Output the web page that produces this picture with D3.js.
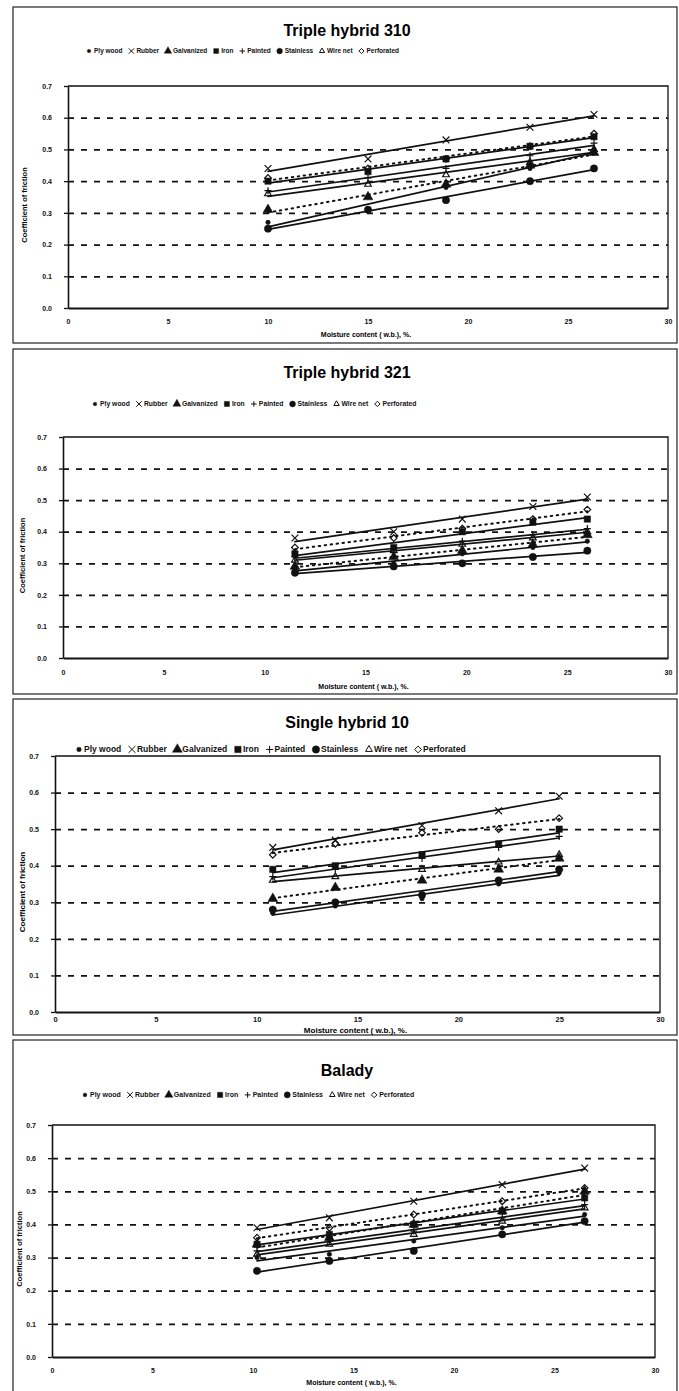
<!DOCTYPE html>
<html>
<head>
<meta charset="utf-8">
<script src="https://cdn.jsdelivr.net/npm/d3@7"></script>
<style>
  body { margin: 0; background: #fff; }
  svg { display: block; font-family: Arial, "Liberation Sans", sans-serif; }
</style>
</head>
<body>
<div id="container"></div>
<script>
// materials, in legend order
const materials = ["Ply wood", "Rubber", "Galvanized", "Iron", "Painted", "Stainless", "Wire net", "Perforated"];

const titles = ["Triple hybrid 310", "Triple hybrid 321", "Single hybrid 10", "Balady"];

// moisture content (w.b.) %, one array per variety
const moisture310 = [10, 15, 18.9, 23.1, 26.3];
const moisture321 = [11.5, 16.4, 19.8, 23.3, 26.0];
const moistureSH10 = [10.8, 13.9, 18.2, 22.0, 25.0];
const moistureBalady = [10.2, 13.8, 18.0, 22.4, 26.5];

// coefficient of friction, rows follow `materials`
const friction310 = [
    [0.27, 0.31, 0.38, 0.44, 0.50],
    [0.44, 0.47, 0.53, 0.57, 0.61],
    [0.31, 0.35, 0.39, 0.45, 0.49],
    [0.40, 0.43, 0.47, 0.51, 0.54],
    [0.37, 0.41, 0.44, 0.48, 0.52],
    [0.25, 0.31, 0.34, 0.40, 0.44],
    [0.36, 0.39, 0.42, 0.46, 0.50],
    [0.41, 0.44, 0.47, 0.51, 0.55]
];
const friction321 = [
    [0.28, 0.30, 0.33, 0.35, 0.37],
    [0.38, 0.40, 0.44, 0.48, 0.51],
    [0.29, 0.32, 0.34, 0.36, 0.39],
    [0.33, 0.35, 0.40, 0.43, 0.44],
    [0.32, 0.34, 0.37, 0.39, 0.41],
    [0.27, 0.29, 0.30, 0.32, 0.34],
    [0.31, 0.34, 0.36, 0.38, 0.40],
    [0.35, 0.38, 0.41, 0.44, 0.47]
];
const frictionSH10 = [
    [0.27, 0.29, 0.31, 0.35, 0.38],
    [0.45, 0.47, 0.51, 0.55, 0.59],
    [0.31, 0.34, 0.36, 0.39, 0.42],
    [0.39, 0.40, 0.43, 0.46, 0.50],
    [0.37, 0.39, 0.42, 0.45, 0.48],
    [0.28, 0.30, 0.32, 0.36, 0.39],
    [0.36, 0.37, 0.39, 0.41, 0.43],
    [0.43, 0.46, 0.49, 0.50, 0.53]
];
const frictionBalady = [
    [0.30, 0.31, 0.35, 0.39, 0.43],
    [0.39, 0.42, 0.47, 0.52, 0.57],
    [0.34, 0.36, 0.40, 0.44, 0.50],
    [0.34, 0.37, 0.40, 0.44, 0.48],
    [0.32, 0.35, 0.38, 0.42, 0.46],
    [0.26, 0.29, 0.32, 0.37, 0.41],
    [0.31, 0.34, 0.37, 0.41, 0.45],
    [0.36, 0.39, 0.43, 0.47, 0.51]
];

const xTicks = [0, 5, 10, 15, 20, 25, 30];
const yTicks = [0, 0.1, 0.2, 0.3, 0.4, 0.5, 0.6, 0.7];

const panels = [
    { title: titles[0], moisture: moisture310, friction: friction310 },
    { title: titles[1], moisture: moisture321, friction: friction321 },
    { title: titles[2], moisture: moistureSH10, friction: frictionSH10 },
    { title: titles[3], moisture: moistureBalady, friction: frictionBalady }
];

// page positions of each panel
const layout = [
    { by: 7,    bh: 336, x0: 68, x1: 668, yt: 86,   yb: 308,  ty: 36,   ly: 53,   lx: 86, lf: 6.5, tick: 322,  xl: 337,  yl: 27 },
    { by: 349,  bh: 345, x0: 63, x1: 668, yt: 437,  yb: 658,  ty: 378,  ly: 406,  lx: 92, lf: 6.8, tick: 673,  xl: 689,  yl: 25 },
    { by: 699,  bh: 336, x0: 55, x1: 660, yt: 756,  yb: 1012, ty: 728,  ly: 752,  lx: 76, lf: 8.5, tick: 1020, xl: 1033, yl: 25 },
    { by: 1040, bh: 352, x0: 52, x1: 655, yt: 1125, yb: 1357, ty: 1076, ly: 1097, lx: 82, lf: 7,   tick: 1371, xl: 1385, yl: 22 }
];

// marker and line style per material
const markerStyle = [
    { type: d3.symbolCircle,    size: 16, fill: true },
    { type: d3.symbolTimes,     size: 32, fill: false },
    { type: d3.symbolTriangle,  size: 42, fill: true },
    { type: d3.symbolSquare,    size: 40, fill: true },
    { type: d3.symbolPlus,      size: 18, fill: false },
    { type: d3.symbolCircle,    size: 42, fill: true },
    { type: d3.symbolTriangle2, size: 32, fill: false },
    { type: d3.symbolDiamond2,  size: 28, fill: false }
];
const dotted = [false, false, true, false, false, false, false, true];

const fit = (xs, ys) => {
    const mx = d3.mean(xs), my = d3.mean(ys);
    const b = d3.sum(xs, (v, k) => (v - mx) * (ys[k] - my)) / d3.sum(xs, v => (v - mx) ** 2);
    return x => my + b * (x - mx);
};

const svg = d3.select("#container")
    .append("svg")
    .attr("width", 679)
    .attr("height", 1391);

panels.forEach((p, i) => {
    const L = layout[i];
    const g = svg.append("g");

    // outer frame
    g.append("rect")
        .attr("x", 13).attr("y", L.by)
        .attr("width", 664).attr("height", L.bh)
        .attr("fill", "none")
        .attr("stroke", "#222")
        .attr("stroke-width", 1.2);

    const x = d3.scaleLinear().domain([0, 30]).range([L.x0, L.x1]);
    const y = d3.scaleLinear().domain([0, 0.7]).range([L.yb, L.yt]);

    g.append("text")
        .attr("x", 347).attr("y", L.ty)
        .attr("text-anchor", "middle")
        .style("font-size", "16px")
        .style("font-weight", "bold")
        .text(p.title);

    // dashed gridlines
    g.append("g")
        .attr("transform", `translate(${L.x0},0)`)
        .call(d3.axisLeft(y).tickValues(yTicks.slice(1, -1)).tickSize(-(L.x1 - L.x0)).tickFormat(""))
        .call(a => a.select(".domain").remove())
        .selectAll("line")
        .attr("stroke", "#111")
        .attr("stroke-width", 1.7)
        .attr("stroke-dasharray", "6,7");

    // top and right of plot area
    g.append("path")
        .attr("d", `M${L.x0},${y(0.7)}H${x(30)}V${y(0)}`)
        .attr("fill", "none")
        .attr("stroke", "#111")
        .attr("stroke-width", 1.3);

    const yAxis = g.append("g")
        .attr("transform", `translate(${L.x0},0)`)
        .call(d3.axisLeft(y).tickValues(yTicks).tickFormat(d3.format(".1f")).tickSize(4).tickSizeOuter(0).tickPadding(12));
    yAxis.select(".domain").attr("stroke", "#111").attr("stroke-width", 1.6);
    yAxis.selectAll("line").attr("stroke", "#111").attr("stroke-width", 1.3);
    yAxis.selectAll("text")
        .attr("fill", "#111")
        .style("font-size", "7px")
        .style("font-weight", "bold");

    const xAxis = g.append("g")
        .attr("transform", `translate(0,${L.yb})`)
        .call(d3.axisBottom(x).tickValues(xTicks).tickSize(0).tickSizeOuter(0).tickPadding(L.tick - L.yb - 3));
    xAxis.select(".domain").attr("stroke", "#111").attr("stroke-width", 1.8);
    xAxis.selectAll("text")
        .attr("fill", "#111")
        .style("font-size", i === 2 ? "7.5px" : "7px")
        .style("font-weight", "bold");

    g.append("text")
        .attr("x", (L.x0 + L.x1) / 2 - 2)
        .attr("y", L.xl)
        .attr("text-anchor", "middle")
        .style("font-size", i === 2 ? "8px" : "7px")
        .style("font-weight", "bold")
        .text("Moisture content ( w.b.), %.");

    g.append("text")
        .attr("transform", `translate(${L.yl},${(L.yt + L.yb) / 2 + 8}) rotate(-90)`)
        .attr("text-anchor", "middle")
        .style("font-size", i === 2 ? "8px" : "7.5px")
        .style("font-weight", "bold")
        .text("Coefficient of friction");

    // trendlines and markers
    p.friction.forEach((vals, m) => {
        const f = fit(p.moisture, vals);
        const ends = [p.moisture[0], p.moisture[p.moisture.length - 1]];
        g.append("path")
            .datum(ends)
            .attr("d", d3.line().x(d => x(d)).y(d => y(f(d))))
            .attr("fill", "none")
            .attr("stroke", "#111")
            .attr("stroke-width", dotted[m] ? 2 : 1.7)
            .attr("stroke-dasharray", dotted[m] ? "1.5,4.5" : null)
            .attr("stroke-linecap", "round");

        const ms = markerStyle[m];
        g.selectAll(null)
            .data(vals.map((v, k) => [p.moisture[k], v]))
            .join("path")
            .attr("transform", d => `translate(${x(d[0])},${y(d[1])})`)
            .attr("d", d3.symbol().type(ms.type).size(ms.size))
            .attr("fill", ms.fill ? "#111" : "none")
            .attr("stroke", "#111")
            .attr("stroke-width", ms.fill ? 0.5 : 1.2);
    });

    // legend
    const lg = g.append("g").attr("transform", `translate(${L.lx},${L.ly})`);
    let cx = 0;
    materials.forEach((name, m) => {
        const ms = markerStyle[m];
        const sc = L.lf / 7;
        lg.append("path")
            .attr("transform", `translate(${cx + 3},${-L.lf * 0.3})`)
            .attr("d", d3.symbol().type(ms.type).size(ms.size * 0.7 * sc * sc))
            .attr("fill", ms.fill ? "#111" : "none")
            .attr("stroke", "#111")
            .attr("stroke-width", ms.fill ? 0.4 : 1);
        const t = lg.append("text")
            .attr("x", cx + 8)
            .attr("y", 0)
            .style("font-size", `${L.lf}px`)
            .style("font-weight", "bold")
            .attr("fill", "#111")
            .text(name);
        cx += 8 + t.node().getComputedTextLength() + L.lf * 0.9;
    });
});
</script>
</body>
</html>
